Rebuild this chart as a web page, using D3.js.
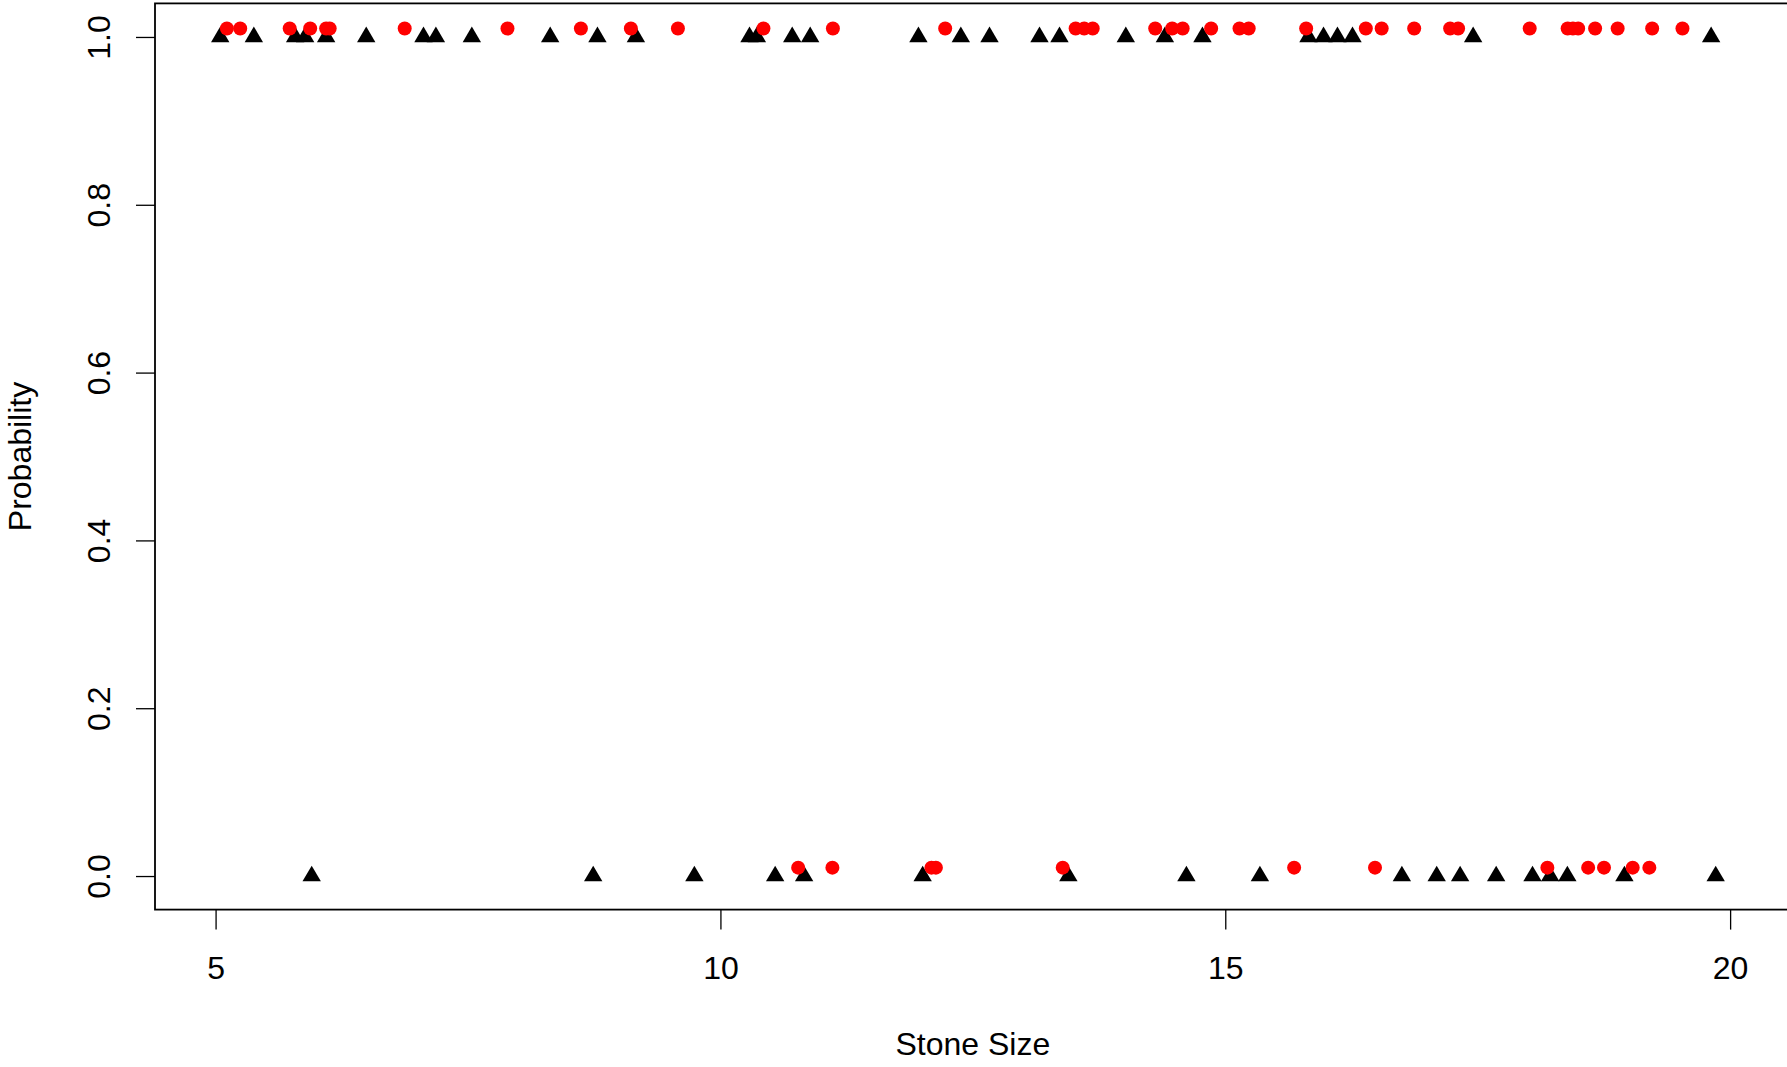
<!DOCTYPE html>
<html>
<head>
<meta charset="utf-8">
<script src="https://cdn.jsdelivr.net/npm/d3@7"></script>
<style>
  body { margin: 0; background: #fff; }
  svg { display: block; font-family: "Liberation Sans", Arial, sans-serif; }
</style>
</head>
<body>
<div id="chart"></div>
<script>
// Observed outcomes (black triangles): stone size and outcome 0/1
var obsSize = [5.046, 5.379, 5.788, 5.887, 6.095, 6.492, 7.059, 7.182, 7.538, 8.314,
    8.782, 9.163, 10.288, 10.361, 10.711, 10.889, 11.961, 12.381, 12.665, 13.160,
    13.358, 14.015, 14.402, 14.774, 15.824, 15.973, 16.111, 16.260, 17.455, 19.812,
    5.952, 8.740, 9.742, 10.542, 10.829, 12.003, 13.446, 14.615, 15.343, 16.749,
    17.094, 17.326, 17.683, 18.043, 18.218, 18.388, 18.953, 19.857];
var obsOutcome = [1, 1, 1, 1, 1, 1, 1, 1, 1, 1,
    1, 1, 1, 1, 1, 1, 1, 1, 1, 1,
    1, 1, 1, 1, 1, 1, 1, 1, 1, 1,
    0, 0, 0, 0, 0, 0, 0, 0, 0, 0,
    0, 0, 0, 0, 0, 0, 0, 0];
// Second group (red circles), drawn slightly above 0 and 1
var redSize = [5.112, 5.244, 5.734, 5.937, 6.095, 6.130, 6.873, 7.891, 8.618, 9.113,
    9.579, 10.426, 11.114, 12.226, 13.518, 13.603, 13.687, 14.306, 14.474, 14.578,
    14.860, 15.141, 15.232, 15.801, 16.392, 16.549, 16.871, 17.227, 17.306, 18.015,
    18.391, 18.443, 18.495, 18.663, 18.886, 19.228, 19.528,
    10.770, 11.109, 12.090, 12.134, 13.390, 15.682, 16.483, 18.190, 18.594, 18.751,
    19.035, 19.200];
var redValue = [1.01, 1.01, 1.01, 1.01, 1.01, 1.01, 1.01, 1.01, 1.01, 1.01,
    1.01, 1.01, 1.01, 1.01, 1.01, 1.01, 1.01, 1.01, 1.01, 1.01,
    1.01, 1.01, 1.01, 1.01, 1.01, 1.01, 1.01, 1.01, 1.01, 1.01,
    1.01, 1.01, 1.01, 1.01, 1.01, 1.01, 1.01,
    0.01, 0.01, 0.01, 0.01, 0.01, 0.01, 0.01, 0.01, 0.01, 0.01,
    0.01, 0.01];
var xTicks = [5, 10, 15, 20];
var yTicks = [0, 0.2, 0.4, 0.6, 0.8, 1.0];

var width = 1787, height = 1067;
// Plot region (R-style box, right edge just past the window)
var boxL = 155, boxR = 1790.7, boxT = 3.4, boxB = 909.6;

// Scales
var x = d3.scaleLinear().domain([4.4, 20.6]).range([boxL, boxR]);
var y = d3.scaleLinear().domain([-0.04, 1.04]).range([boxB, boxT]);

var svg = d3.select("#chart")
    .append("svg")
    .attr("width", width)
    .attr("height", height);
svg.append("rect")
    .attr("width", width)
    .attr("height", height)
    .attr("fill", "#fff");

// Axes
var xAxis = svg.append("g")
    .attr("transform", "translate(0," + boxB + ")")
    .call(d3.axisBottom(x).tickValues(xTicks).tickSize(20).tickSizeOuter(0).tickPadding(26.5)
        .tickFormat(d3.format("d")));
xAxis.select(".domain").remove();

var yAxis = svg.append("g")
    .attr("transform", "translate(" + boxL + ",0)")
    .call(d3.axisLeft(y).tickValues(yTicks).tickSize(19).tickSizeOuter(0)
        .tickFormat(d3.format(".1f")));
yAxis.select(".domain").remove();
yAxis.selectAll("text")
    .attr("transform", "rotate(-90)")
    .attr("x", 0)
    .attr("y", -45)
    .attr("dy", 0)
    .attr("text-anchor", "middle");

svg.selectAll(".tick line").attr("stroke", "#000").attr("stroke-width", 1.3);
svg.selectAll(".tick text")
    .attr("fill", "#000")
    .style("font-size", "32px")
    .style("font-family", "'Liberation Sans', Arial, sans-serif");

// Plot box
svg.append("rect")
    .attr("x", boxL)
    .attr("y", boxT)
    .attr("width", boxR - boxL)
    .attr("height", boxB - boxT)
    .attr("fill", "none")
    .attr("stroke", "#000")
    .attr("stroke-width", 1.8);

// Triangles
var tri = "M0,-10.4L9.2,5.2L-9.2,5.2Z";
svg.append("g")
    .selectAll("path")
    .data(d3.range(obsSize.length))
    .enter()
    .append("path")
    .attr("d", tri)
    .attr("fill", "#000")
    .attr("transform", function (i) { return "translate(" + x(obsSize[i]) + "," + y(obsOutcome[i]) + ")"; });

// Red circles
svg.append("g")
    .selectAll("circle")
    .data(d3.range(redSize.length))
    .enter()
    .append("circle")
    .attr("cx", function (i) { return x(redSize[i]); })
    .attr("cy", function (i) { return y(redValue[i]); })
    .attr("r", 7)
    .attr("fill", "#ff0000");

// Axis titles
svg.append("text")
    .attr("x", (boxL + boxR) / 2)
    .attr("y", 1055)
    .attr("text-anchor", "middle")
    .style("font-size", "32px")
    .text("Stone Size");
svg.append("text")
    .attr("transform", "translate(31," + ((boxT + boxB) / 2) + ") rotate(-90)")
    .attr("text-anchor", "middle")
    .style("font-size", "32px")
    .text("Probability");
</script>
</body>
</html>
